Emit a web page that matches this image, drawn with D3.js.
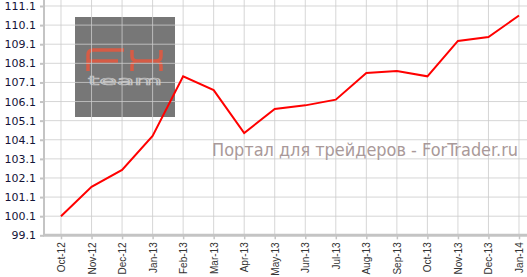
<!DOCTYPE html>
<html>
<head>
<meta charset="utf-8">
<script src="https://cdn.jsdelivr.net/npm/d3@7.9.0/dist/d3.min.js"></script>
<style>
  body { margin: 0; background: #fff; }
  svg { display: block; }
</style>
</head>
<body>
<svg id="chart" width="527" height="277"></svg>
<script>
// Chart data
const months = ['Oct-12', 'Nov-12', 'Dec-12', 'Jan-13', 'Feb-13', 'Mar-13', 'Apr-13', 'May-13',
                'Jun-13', 'Jul-13', 'Aug-13', 'Sep-13', 'Oct-13', 'Nov-13', 'Dec-13', 'Jan-14'];
const values = [100.1, 101.64, 102.52, 104.3, 107.42, 106.7, 104.45, 105.71,
                105.9, 106.2, 107.6, 107.7, 107.42, 109.27, 109.48, 110.6];
const yTicks = [99.1, 100.1, 101.1, 102.1, 103.1, 104.1, 105.1, 106.1, 107.1, 108.1, 109.1, 110.1, 111.1];
const watermark = 'Портал для трейдеров - ForTrader.ru';

const width = 527, height = 277;
const left = 44, bottom = 235.3;

const svg = d3.select('#chart');

// Scales
const x = d3.scalePoint().domain(months).range([61, 519]);
const y = d3.scaleLinear().domain([99.1, 111.1]).range([bottom, 6]);

// Logo box (drawn under the grid)
const logo = svg.append('g');
logo.append('rect')
  .attr('x', 75).attr('y', 17)
  .attr('width', 100).attr('height', 100)
  .attr('fill', '#777');
// "FX" letters
logo.append('path')
  .attr('d', 'M88,71 V55 Q88,50 93,50 H124 M88,61 H118 ' +
             'M132,50 V56 Q132,61 137,61 H156 Q161,61 161,56 V50 ' +
             'M132,71 V66 Q132,61 137,61 M161,71 V66 Q161,61 156,61')
  .attr('fill', 'none')
  .attr('stroke', '#d65c46')
  .attr('stroke-width', 3.5);
logo.append('text')
  .attr('x', 88).attr('y', 85)
  .attr('textLength', 74)
  .attr('lengthAdjust', 'spacingAndGlyphs')
  .style('font-family', 'DejaVu Sans')
  .style('font-size', '12px')
  .attr('fill', 'none')
  .attr('stroke', '#c4c4c4')
  .attr('stroke-width', 0.7)
  .text('team');

// Grid
const grid = svg.append('g').attr('stroke', '#cccccc').attr('stroke-opacity', 0.8);
grid.selectAll('.h')
  .data(yTicks)
  .join('line')
  .attr('x1', left).attr('x2', width)
  .attr('y1', d => y(d)).attr('y2', d => y(d));
grid.selectAll('.v')
  .data(months)
  .join('line')
  .attr('x1', d => x(d)).attr('x2', d => x(d))
  .attr('y1', 0).attr('y2', bottom);

// Watermark
svg.append('text')
  .attr('x', 212).attr('y', 156)
  .attr('textLength', 306)
  .attr('lengthAdjust', 'spacingAndGlyphs')
  .style('font-family', 'DejaVu Sans Condensed, DejaVu Sans')
  .style('font-stretch', 'condensed')
  .style('font-size', '17px')
  .attr('fill', '#a99999')
  .text(watermark);

// Y axis
const yAxis = svg.append('g')
  .attr('transform', `translate(${left},0)`)
  .call(d3.axisLeft(y).tickValues(yTicks).tickFormat(d3.format('.1f')).tickSize(4).tickPadding(4));
yAxis.select('.domain').remove();
yAxis.selectAll('.tick line').attr('stroke', '#c4c4c4').attr('stroke-width', 2);
yAxis.selectAll('.tick text')
  .attr('fill', '#141438')
  .style('font-family', 'DejaVu Sans')
  .style('font-size', '11px');
svg.append('line')
  .attr('x1', left).attr('x2', left)
  .attr('y1', 0).attr('y2', bottom)
  .attr('stroke', '#c4c4c4').attr('stroke-width', 2);

// X axis
const xAxis = svg.append('g')
  .attr('transform', `translate(0,${bottom})`)
  .call(d3.axisBottom(x).tickSize(4).tickPadding(3));
xAxis.select('.domain').remove();
xAxis.selectAll('.tick line').attr('stroke', '#c4c4c4').attr('stroke-width', 1.5);
xAxis.selectAll('.tick text')
  .attr('fill', '#333')
  .style('font-family', 'Liberation Sans')
  .style('font-size', '10px')
  .attr('text-anchor', 'end')
  .attr('transform', 'rotate(-90)')
  .attr('x', -7).attr('y', 0).attr('dy', '0.35em');
svg.append('line')
  .attr('x1', left - 1).attr('x2', width)
  .attr('y1', bottom).attr('y2', bottom)
  .attr('stroke', '#c4c4c4').attr('stroke-width', 3);

// Series line
const line = d3.line()
  .x((d, i) => x(months[i]))
  .y(d => y(d));
svg.append('path')
  .datum(values)
  .attr('d', line)
  .attr('fill', 'none')
  .attr('stroke', '#ff0000')
  .attr('stroke-width', 2);
</script>
</body>
</html>
